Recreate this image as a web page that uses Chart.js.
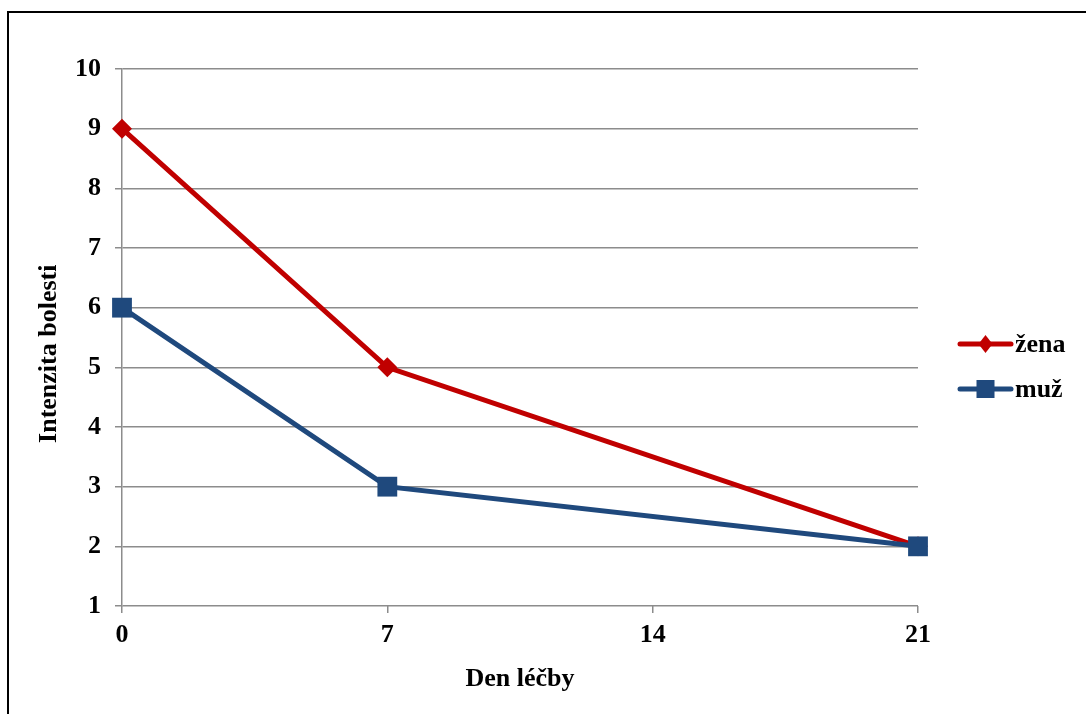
<!DOCTYPE html>
<html lang="cs">
<head>
    <meta charset="UTF-8">
    <title>Intenzita bolesti</title>
    <script src="https://cdn.jsdelivr.net/npm/chart.js"></script>
    <style>
        body { margin: 0; background: #fff; }
        .frame { position: absolute; left: 7px; top: 11px; width: 1100px; height: 720px; border: 2px solid #000; }
        .wrap { position: absolute; left: 0; top: 0; width: 1086px; height: 714px; }
    </style>
</head>
<body>
    <div class="frame"></div>
    <div class="wrap"><canvas id="painChart"></canvas></div>

    <script>
        // Data
        const days = [0, 7, 21];
        const zena = [9, 5, 2];
        const muz = [6, 3, 2];
        const xTicks = [0, 7, 14, 21];
        const yMin = 1, yMax = 10;

        const FONT = "'Liberation Serif', 'Times New Roman', serif";
        Chart.defaults.font.family = FONT;
        Chart.defaults.font.size = 26;
        Chart.defaults.font.weight = 'bold';
        Chart.defaults.color = '#000';

        const RED = '#C00000';
        const BLUE = '#1F497D';
        const GRID = '#8c8c8c';

        function toPoints(values) {
            return days.map((d, i) => ({ x: d, y: values[i] }));
        }

        // Legend with line + marker, like the office chart
        const lineLegend = {
            id: 'lineLegend',
            afterDraw(chart) {
                const ctx = chart.ctx;
                const items = [
                    { ds: chart.data.datasets[0], y: 344 },
                    { ds: chart.data.datasets[1], y: 389 }
                ];
                ctx.save();
                items.forEach(item => {
                    const ds = item.ds;
                    ctx.strokeStyle = ds.borderColor;
                    ctx.lineWidth = 5;
                    ctx.lineCap = 'round';
                    ctx.beginPath();
                    ctx.moveTo(960, item.y);
                    ctx.lineTo(1011, item.y);
                    ctx.stroke();
                    ctx.fillStyle = ds.backgroundColor;
                    const cx = 985.5;
                    if (ds.pointStyle === 'rectRot') {
                        ctx.beginPath();
                        ctx.moveTo(cx, item.y - 9);
                        ctx.lineTo(cx + 7, item.y);
                        ctx.lineTo(cx, item.y + 9);
                        ctx.lineTo(cx - 7, item.y);
                        ctx.closePath();
                        ctx.fill();
                    } else {
                        ctx.fillRect(cx - 9, item.y - 9, 18, 18);
                    }
                    ctx.fillStyle = '#000';
                    ctx.font = 'bold 26px ' + FONT;
                    ctx.textBaseline = 'middle';
                    ctx.textAlign = 'left';
                    ctx.fillText(ds.label, 1015, item.y + 1);
                });
                ctx.restore();
            }
        };

        const ctx = document.getElementById('painChart').getContext('2d');
        const painChart = new Chart(ctx, {
            type: 'line',
            data: {
                datasets: [
                    {
                        label: 'žena',
                        data: toPoints(zena),
                        borderColor: RED,
                        backgroundColor: RED,
                        borderWidth: 5,
                        pointStyle: 'rectRot',
                        pointRadius: 10,
                        pointHoverRadius: 10,
                        pointBorderWidth: 0,
                        order: 1,
                        clip: false
                    },
                    {
                        label: 'muž',
                        data: toPoints(muz),
                        borderColor: BLUE,
                        backgroundColor: BLUE,
                        borderWidth: 5,
                        pointStyle: 'rect',
                        pointRadius: 14,
                        pointHoverRadius: 14,
                        pointBorderWidth: 0,
                        order: 0,
                        clip: false
                    }
                ]
            },
            options: {
                responsive: true,
                maintainAspectRatio: false,
                animation: false,
                layout: { padding: { left: 0, top: 69, right: 168, bottom: 0 } },
                plugins: {
                    legend: { display: false },
                    tooltip: { enabled: false }
                },
                scales: {
                    x: {
                        type: 'linear',
                        min: 0,
                        max: 21,
                        afterBuildTicks: scale => { scale.ticks = xTicks.map(v => ({ value: v })); },
                        afterFit: scale => { scale.height = 108; },
                        ticks: { padding: 7 },
                        grid: { drawOnChartArea: false, drawTicks: true, tickLength: 7, color: GRID, lineWidth: 1.5 },
                        border: { display: false },
                        title: { display: true, text: 'Den léčby', padding: { top: 0, bottom: 19 } }
                    },
                    y: {
                        min: yMin,
                        max: yMax,
                        ticks: { stepSize: 1, padding: 14 },
                        afterFit: scale => { scale.width = 122; },
                        grid: { color: GRID, lineWidth: 1.5, tickLength: 7 },
                        border: { color: GRID, width: 1.5 },
                        // trailing spaces nudge the rotated title down, as in the original
                        title: { display: true, text: 'Intenzita bolesti     ', padding: { top: 34, bottom: 0 } }
                    }
                }
            },
            plugins: [lineLegend]
        });
    </script>
</body>
</html>
